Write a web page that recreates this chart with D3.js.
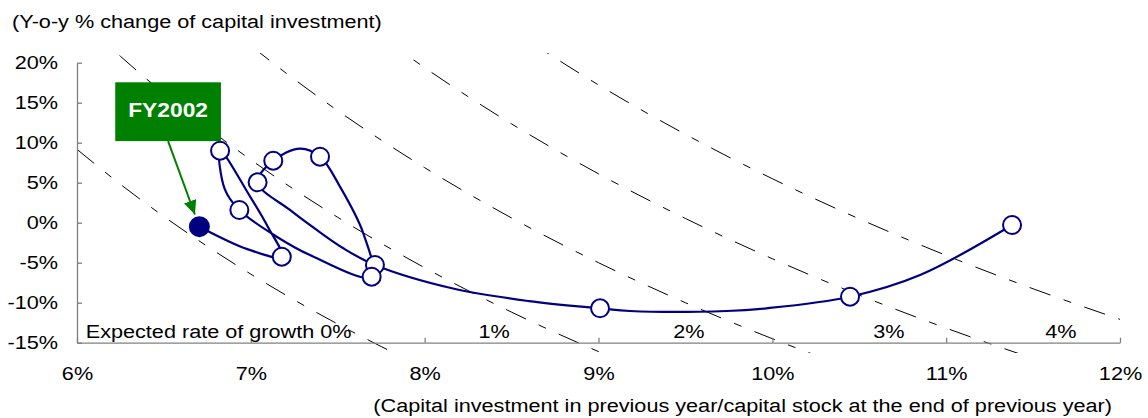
<!DOCTYPE html>
<head>
  <meta charset="utf-8" />
  <script src="https://d3js.org/d3.v7.min.js"></script>
  <style>
    body {
      margin: 0;
      background: #fff;
    }
    text {
      font-family: "Liberation Sans", Arial, sans-serif;
    }
  </style>
</head>

<body>
  <script>
    // ---- data (x: I/K ratio %, y: y-o-y % change) ----
    var xTicks = [6, 7, 8, 9, 10, 11, 12];
    var yTicks = [-15, -10, -5, 0, 5, 10, 15, 20];

    // expected growth rate curves
    var growthRates = [0, 1, 2, 3, 4];
    var growthLabels = ["Expected rate of growth 0%", "1%", "2%", "3%", "4%"];
    var curve0 = [[6.0, 9.17], [6.25, 4.8], [6.5, 0.77], [6.75, -2.96], [7.0, -6.43], [7.25, -9.66], [7.5, -12.67], [7.75, -15.48], [8.0, -18.13]];
    var curve1 = [[6.0, 25.83], [6.25, 20.8], [6.5, 16.15], [7.0, 7.86], [7.5, 0.67], [8.0, -5.63], [8.5, -11.18], [9.0, -16.11], [9.5, -20.53]];
    var curve2 = [[6.75, 26.7], [7.0, 22.14], [7.5, 14.0], [8.0, 6.88], [8.5, 0.59], [9.0, -5.0], [9.5, -10.0], [10.0, -14.5], [10.5, -18.57]];
    var curve3 = [[7.5, 27.33], [8.0, 19.38], [8.5, 12.35], [9.0, 6.11], [9.5, 0.53], [10.0, -4.5], [10.5, -9.05], [11.0, -13.18], [11.5, -16.96], [12.0, -20.4]];
    var curve4 = [[8.5, 24.12], [9.0, 17.22], [9.5, 11.05], [10.0, 5.5], [10.5, 0.48], [11.0, -4.09], [11.5, -8.26], [12.0, -12.08]];

    // capital stock cycle path ("" = point without marker)
    var seriesX = [11.379, 10.85, 10.447, 9.967, 9.737, 9.181, 9.009, 8.6, 8.157, 7.714, 7.532, 7.379, 7.225, 7.039, 7.129, 7.283, 7.398, 7.513, 7.647, 7.695, 7.34, 7.149, 6.934, 6.85, 6.823, 6.995, 7.1, 7.178, 6.98, 6.704];
    var seriesY = [-0.29, -6.54, -9.25, -10.7, -11.04, -11.04, -10.7, -9.8, -8.2, -5.29, -3.2, -0.91, 1.59, 5.05, 7.75, 9.27, 8.25, 4.5, -1.33, -6.75, -4.04, -1.75, 1.59, 4.2, 9.0, 3.3, -0.6, -4.25, -3.3, -0.5];
    var seriesFY = ["FY1991", "", "FY1992", "", "", "", "FY1993", "", "", "FY1994", "", "", "", "FY1995", "FY1996", "", "FY1997", "", "", "FY1998", "", "", "FY1999", "", "FY2000", "", "", "FY2001", "", "FY2002"];
    var highlightFY = "FY2002";

    // ---- layout ----
    var width = 1148,
      height = 418;
    var STRETCH = 1.14; // the reference text is a little wide
    var navy = "#000080",
      green = "#008000",
      axisGrey = "#808080";

    var svg = d3
      .select("body")
      .append("svg")
      .attr("width", width)
      .attr("height", height);

    var x = d3.scaleLinear().domain([6, 12]).range([77, 1120]);
    var y = d3.scaleLinear().domain([-15, 20]).range([342.7, 62.7]);

    function stretch(sel) {
      sel.each(function () {
        var t = d3.select(this);
        var tx = +t.attr("x") || 0,
          ty = +t.attr("y") || 0;
        t.attr("x", null)
          .attr("y", null)
          .attr("transform", "translate(" + tx + "," + ty + ") scale(" + STRETCH + ",1)");
      });
    }

    // clip for dashed curves (they run a little past the axes)
    svg.append("defs")
      .append("clipPath")
      .attr("id", "plotclip")
      .append("rect")
      .attr("x", x(6))
      .attr("y", y(21.2))
      .attr("width", x(12) - x(6))
      .attr("height", y(-16.3) - y(21.2));

    var arrowDef = svg.select("defs")
      .append("marker")
      .attr("id", "arrowhead")
      .attr("markerUnits", "userSpaceOnUse")
      .attr("markerWidth", 15)
      .attr("markerHeight", 13)
      .attr("refX", 14)
      .attr("refY", 6.5)
      .attr("orient", "auto");
    arrowDef.append("path").attr("d", "M0,0 L14,6.5 L0,13 Z").attr("fill", green);

    // dashed growth curves
    var curveLine = d3.line()
      .x(function (d) { return x(d[0]); })
      .y(function (d) { return y(d[1]); })
      .curve(d3.curveMonotoneX);

    svg.append("g")
      .attr("clip-path", "url(#plotclip)")
      .selectAll("path")
      .data([curve0, curve1, curve2, curve3, curve4])
      .join("path")
      .attr("d", curveLine)
      .attr("fill", "none")
      .attr("stroke", "#000")
      .attr("stroke-width", 1)
      .attr("stroke-dasharray", "22,14,8,14");

    // axes
    var gy = svg.append("g")
      .attr("transform", "translate(" + x(6) + ",0)")
      .call(d3.axisLeft(y).tickValues(yTicks).tickSize(-5).tickSizeOuter(0).tickPadding(19)
        .tickFormat(function (d) { return d + "%"; }));
    var gx = svg.append("g")
      .attr("transform", "translate(0," + y(-15) + ")")
      .call(d3.axisBottom(x).tickValues(xTicks).tickSize(-5).tickSizeOuter(0).tickPadding(24)
        .tickFormat(function (d) { return d + "%"; }));
    [gx, gy].forEach(function (g) {
      g.attr("font-size", 19).attr("font-family", null);
      g.select(".domain").attr("stroke", axisGrey).attr("stroke-width", 1.3);
      g.selectAll(".tick line").attr("stroke", axisGrey).attr("stroke-width", 1.3);
      g.selectAll(".tick text").attr("fill", "#000").call(stretch);
    });

    // axis titles
    svg.append("text")
      .attr("x", 12)
      .attr("y", 28)
      .attr("font-size", 19)
      .text("(Y-o-y % change of capital investment)")
      .call(stretch);
    svg.append("text")
      .attr("x", 1112)
      .attr("y", 412)
      .attr("font-size", 19)
      .attr("text-anchor", "end")
      .text("(Capital investment in previous year/capital stock at the end of previous year)")
      .call(stretch);

    // growth labels along the bottom
    var growthLabelX = [6.05, 8.4, 9.52, 10.67, 11.66];
    svg.append("g")
      .selectAll("text")
      .data(growthRates)
      .join("text")
      .attr("x", function (d, i) { return x(growthLabelX[i]); })
      .attr("y", y(-14.4))
      .attr("font-size", 19)
      .attr("text-anchor", function (d, i) { return i == 0 ? "start" : "middle"; })
      .text(function (d, i) { return growthLabels[i]; })
      .call(stretch);

    // capital stock cycle line
    var pts = seriesX.map(function (v, i) {
      return { x: v, y: seriesY[i], fy: seriesFY[i] };
    });
    var pathLine = d3.line()
      .x(function (d) { return x(d.x); })
      .y(function (d) { return y(d.y); })
      .curve(d3.curveCatmullRom.alpha(0.5));

    svg.append("path")
      .datum(pts)
      .attr("d", pathLine)
      .attr("fill", "none")
      .attr("stroke", navy)
      .attr("stroke-width", 2.2);

    svg.append("g")
      .selectAll("circle")
      .data(pts.filter(function (d) { return d.fy != ""; }))
      .join("circle")
      .attr("cx", function (d) { return x(d.x); })
      .attr("cy", function (d) { return y(d.y); })
      .attr("r", function (d) { return d.fy == highlightFY ? 9.5 : 9; })
      .attr("fill", function (d) { return d.fy == highlightFY ? navy : "#fff"; })
      .attr("stroke", navy)
      .attr("stroke-width", 2);

    // FY2002 callout
    var box = { x0: 6.22, x1: 6.828, y0: 17.55, y1: 10.2 };
    var last = pts.filter(function (d) { return d.fy == highlightFY; })[0];
    var bx = (x(box.x0) + x(box.x1)) / 2,
      by = y(box.y1);
    var px = x(last.x),
      py = y(last.y);
    var len = Math.hypot(px - bx, py - by);
    var gap = 13;

    svg.append("line")
      .attr("x1", bx)
      .attr("y1", by)
      .attr("x2", px - (px - bx) * gap / len)
      .attr("y2", py - (py - by) * gap / len)
      .attr("stroke", green)
      .attr("stroke-width", 2)
      .attr("marker-end", "url(#arrowhead)");

    svg.append("rect")
      .attr("x", x(box.x0))
      .attr("y", y(box.y0))
      .attr("width", x(box.x1) - x(box.x0))
      .attr("height", y(box.y1) - y(box.y0))
      .attr("fill", green);

    svg.append("text")
      .attr("x", bx)
      .attr("y", y(box.y0) + 34.5)
      .attr("font-size", 20)
      .attr("font-weight", "bold")
      .attr("fill", "#fff")
      .attr("text-anchor", "middle")
      .text(highlightFY)
      .call(stretch);
  </script>
</body>
